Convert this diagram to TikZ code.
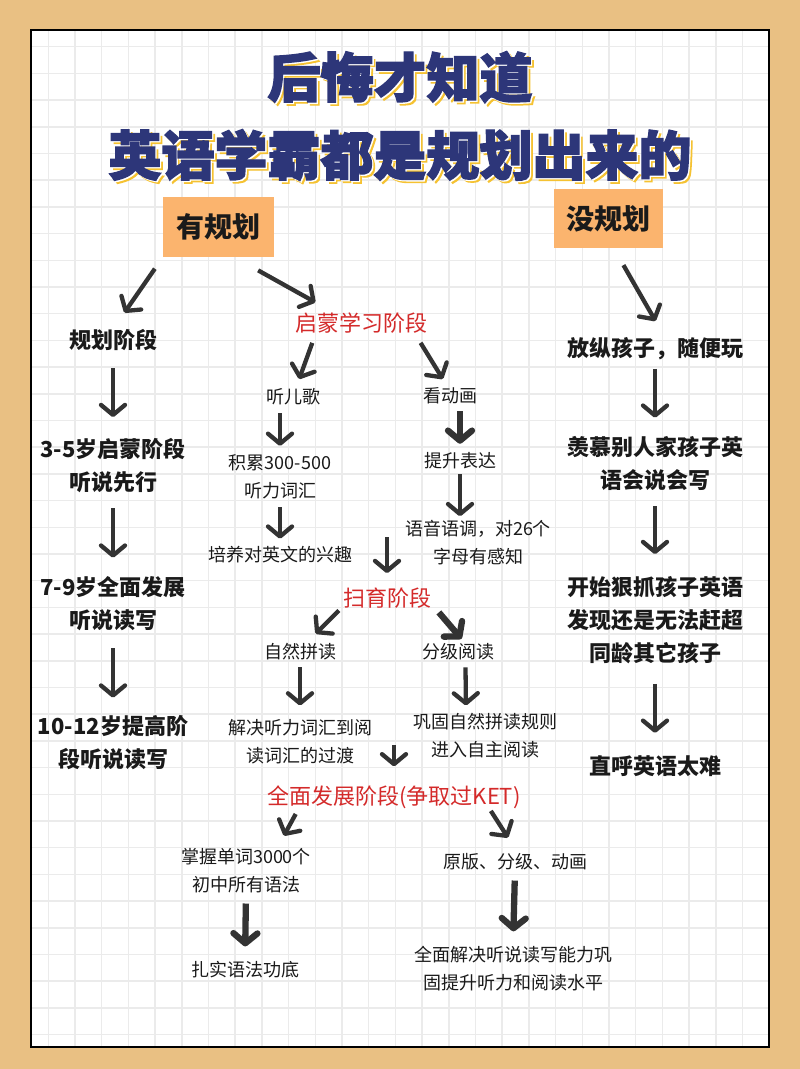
\documentclass[tikz,border=0pt]{standalone}
\usepackage{fontspec}
\setmainfont{Noto Sans CJK SC}
\newfontfamily\titlefont[BoldFeatures={FakeBold=2.6}]{Noto Sans CJK SC}
\usetikzlibrary{arrows.meta}
\definecolor{bgtan}{HTML}{E9C083}
\definecolor{gridgray}{HTML}{EBEBEB}
\definecolor{planorange}{HTML}{FBB46E}
\definecolor{titlenavy}{HTML}{2D3679}
\definecolor{titleyellow}{HTML}{F5C232}
\definecolor{stagered}{HTML}{D42A2A}
\definecolor{arrgray}{HTML}{333333}
\definecolor{txtblack}{HTML}{1A1A1A}

\begin{document}
\begin{tikzpicture}[x=1pt, y=-1pt,
  titletxt/.style={font=\titlefont\bfseries\fontsize{53}{78}\selectfont, align=center, inner sep=0pt},
  plan/.style={fill=planorange, font=\bfseries\fontsize{28}{30}\selectfont, text=txtblack, minimum width=111pt, minimum height=60pt},
  side/.style={font=\bfseries\fontsize{22}{33}\selectfont, align=center, text=txtblack, inner sep=0pt},
  mid/.style={font=\fontsize{18}{28}\selectfont, align=center, text=txtblack, inner sep=0pt},
  stage/.style={font=\fontsize{22}{30}\selectfont, text=stagered, inner sep=0pt},
  arr/.style={draw=arrgray, line width=4.3pt, -{Straight Barb[length=10pt, width=24pt, round]}},
  fat/.style={arr, line width=6.3pt}]
\useasboundingbox (0,0) rectangle (800,1069);
\fill[bgtan] (0,0) rectangle (800,1069);
\fill[white] (31,30) rectangle (769,1047);
% grid
\begin{scope}
  \clip (31,30) rectangle (769,1047);
  \foreach \k in {0,...,27} { \draw[gridgray, line width=1.5pt] (48.3+26.7*\k,30) -- (48.3+26.7*\k,1047); }
  \foreach \k in {0,...,38} { \draw[gridgray, line width=1.5pt] (31,46.7+26.7*\k) -- (769,46.7+26.7*\k); }
\end{scope}
\draw[line width=2.5pt, black] (31,30) rectangle (769,1047);
% title with shadow
\foreach \d/\c in {3/titleyellow, 1.3/white}
  { \node[titletxt, text=\c] at (400+\d,116+\d) {后悔才知道\\英语学霸都是规划出来的}; }
\node[titletxt, text=titlenavy] (title) at (400,116) {后悔才知道\\英语学霸都是规划出来的};
% two heads
\node[plan] (yes) at (218.5,227) {有规划};
\node[plan, minimum width=109pt, minimum height=59pt] (no) at (608.5,218.5) {没规划};
% left column
\node[side] (l1) at (113,340) {规划阶段};
\node[side] (l2) at (113,466) {3-5岁启蒙阶段\\听说先行};
\node[side] (l3) at (113,604) {7-9岁全面发展\\听说读写};
\node[side] (l4) at (113,743) {10-12岁提高阶\\段听说读写};
% right column
\node[side] (r1) at (655,349) {放纵孩子，随便玩};
\node[side] (r2) at (655,463) {羡慕别人家孩子英\\语会说会写};
\node[side] (r3) at (655,620) {开始狠抓孩子英语\\发现还是无法赶超\\同龄其它孩子};
\node[side] (r4) at (655,766) {直呼英语太难};
% middle stages
\node[stage] (s1) at (361,323) {启蒙学习阶段};
\node[mid] (m1) at (293,397) {听儿歌};
\node[mid] (m2) at (280,477) {积累300-500\\听力词汇};
\node[mid] (m3) at (280,555) {培养对英文的兴趣};
\node[mid] (n1) at (450,396) {看动画};
\node[mid] (n2) at (460,461) {提升表达};
\node[mid] (n3) at (478,542.5) {语音语调，对26个\\字母有感知};
\coordinate (j1) at (387,537);
\node[stage] (s2) at (387,598) {扫育阶段};
\node[mid] (p1) at (300,652) {自然拼读};
\node[mid] (p2) at (300,741.5) {解决听力词汇到阅\\读词汇的过渡};
\node[mid] (q1) at (458,652) {分级阅读};
\node[mid] (q2) at (485,735.5) {巩固自然拼读规则\\进入自主阅读};
\coordinate (j2) at (394,745);
\node[stage] (s3) at (394,797) {全面发展阶段(争取过KET)};
\node[mid] (u1) at (246,871) {掌握单词3000个\\初中所有语法};
\node[mid] (u2) at (245,970) {扎实语法功底};
\node[mid] (v1) at (515,862) {原版、分级、动画};
\node[mid] (v2) at (513,969) {全面解决听说读写能力巩\\固提升听力和阅读水平};
% arrows
\foreach \a/\b/\s/\e in {yes.south west/l1.north/14/20, yes.-62/s1.159/27/21, no.-80/r1.49/19.5/19,
    l1.south/l2.north/17.5/21.5, l2.south/l3.north/15/19, l3.south/l4.north/17/18,
    r1.south/r2.north/8.5/18, r2.south/r3.north/16/22, r3.south/r4.north/20/22.5,
    s1.193/m1.72/10/10, s1.-11/n1.103/11/10, m2.south/m3.north/8/7.75,
    s2.191/p1.56/5.5/13.8, p1.south/p2.north/6.75/13.5, q1.-49/q2.130/6.75/7.5,
    s3.187/u1.36/6/14.5, s3.-7/v1.70/2.6/18.7}
  { \draw[arr, shorten <=\s pt, shorten >=\e pt] (\a) -- (\b); }
\draw[arr, shorten <=7.5pt, shorten >=8.75pt] (m1.south -| m2) -- (m2.north);
\draw[fat, shorten <=6.75pt, shorten >=8.75pt] (n1.south -| n2) -- (n2.north);
\draw[arr, shorten <=4.75pt, shorten >=3.75pt] (n2.south) -- (n2.south |- n3.north);
\draw[arr, shorten >=14.5pt] (j1) -- (s2.north);
\draw[fat, shorten <=11.8pt, shorten >=6.1pt] (s2.-7) -- (q1.49);
\draw[arr, shorten >=19pt] (j2) -- (s3.north);
\draw[fat, shorten <=10pt, shorten >=15pt] (u1.south) -- (u2.north);
\draw[fat, shorten <=10pt, shorten >=15pt] (v1.south) -- (v2.north);
\end{tikzpicture}
\end{document}
